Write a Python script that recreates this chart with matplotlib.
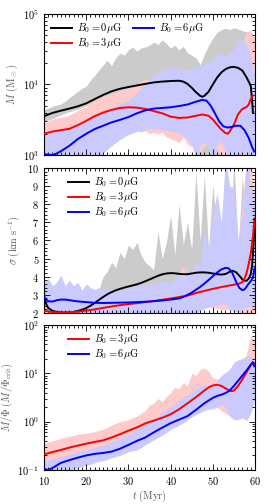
import matplotlib

matplotlib.use("Agg")
import matplotlib.pyplot as plt
import numpy as np
from matplotlib.ticker import MultipleLocator, LogLocator, NullFormatter

plt.rcParams["font.family"] = "serif"
plt.rcParams["font.serif"] = ["cmr10", "DejaVu Serif"]
plt.rcParams["mathtext.fontset"] = "cm"
plt.rcParams["axes.formatter.use_mathtext"] = True
plt.rcParams["axes.unicode_minus"] = False

# --- band time grid (Myr) ---
t_band = np.arange(10, 61)

# ---------------- top panel: mass M (Msun) ----------------
m0_t = [10, 12, 14, 16, 18, 20, 22, 24, 26, 28, 30, 32, 34, 36, 38, 40, 42, 43, 44, 45, 46, 47,
        47.5, 48, 49, 50, 51, 52, 53, 54, 55, 56, 57, 58, 58.5, 59, 59.3, 59.5]
m0 = [3550, 3950, 4250, 4550, 4900, 5400, 6200, 7100, 8000, 8700, 9200, 9700, 10200, 10700,
      11000, 11200, 11300, 11000, 10200, 9000, 7800, 6900, 6700, 6900, 7900, 10000, 12500,
      14800, 16500, 17500, 17800, 17200, 15800, 12600, 11000, 9500, 6000, 4000]
m3_t = [10, 12, 14, 16, 18, 20, 22, 24, 26, 28, 30, 32, 34, 36, 38, 40, 42, 44, 46, 47.5, 49,
        50, 51, 52, 53, 53.5, 54, 55, 56, 57, 58, 58.5, 59, 59.5]
m3 = [2000, 2150, 2250, 2350, 2650, 3050, 3550, 4000, 4350, 4650, 4750, 4700, 4500, 4200,
      3900, 3500, 3350, 3400, 3600, 3750, 3600, 3200, 2700, 2300, 2050, 2000, 2150, 2700, 3800,
      4500, 4800, 5200, 6200, 7000]
m6_t = [10, 11, 12, 13, 14, 16, 18, 20, 22, 24, 26, 28, 30, 32, 34, 36, 38, 40, 42, 44, 46,
        47.5, 48.5, 49.5, 50.5, 51.5, 52.5, 53.5, 54.5, 55.5, 56.5, 57.5, 58.5, 59.3, 59.8]
m6 = [1030, 1010, 1000, 1050, 1130, 1350, 1680, 2000, 2330, 2600, 2900, 3150, 3450, 3900,
      4300, 4550, 4650, 4750, 4950, 5200, 5700, 6050, 5900, 5000, 3900, 3000, 2550, 2450, 2500,
      2600, 2600, 2250, 1750, 1300, 1120]

m0_hi = [4400, 4600, 4900, 5100, 5300, 5800, 6500, 7200, 8000, 8800, 9500, 11500, 13500, 16000,
         19000, 22000, 18500, 24000, 28000, 26000, 31000, 34000, 30000, 33000, 34000, 36000,
         40000, 37000, 43000, 38000, 33000, 36000, 31000, 35000, 28000, 26000, 24000, 19000,
         27000, 36000, 45000, 55000, 60000, 63000, 60000, 64000, 61000, 58000, 56000, 52000, 46000]
m0_lo = [3000, 3100, 3300, 3500, 3700, 3900, 4100, 4300, 4500, 4700, 5000, 5400, 5800, 6200,
         6600, 7000, 7300, 7600, 7800, 8000, 8000, 8200, 8300, 8500, 8600, 8700, 8800, 8800,
         8500, 8000, 7000, 5500, 4000, 3000, 2200, 1500, 900, 700, 650, 900, 800, 700, 800, 900,
         1000, 1200, 1600, 2000, 1800, 1500, 2500]
m3_hi = [2900, 3000, 3200, 3350, 3450, 3500, 3700, 3950, 4300, 4600, 4800, 5400, 6000, 6500,
         6800, 7100, 7400, 7800, 8200, 8800, 9500, 9800, 10300, 11000, 12000, 11500, 13000,
         12000, 14000, 13000, 15000, 12000, 14000, 11000, 13000, 12000, 14000, 11000, 12000,
         10000, 11000, 9000, 10000, 8000, 12000, 20000, 25000, 40000, 55000, 60000, 40000]
m3_lo = [1300, 1350, 1450, 1480, 1500, 1520, 1600, 1700, 1800, 1950, 2050, 2200, 2350, 2400,
         2500, 2600, 2700, 2800, 2700, 2400, 2200, 2100, 2300, 2100, 2200, 2000, 2100, 2000,
         2100, 1800, 1700, 1600, 1500, 1800, 1400, 1300, 1200, 1100, 1300, 1500, 1400, 1200,
         1000, 900, 800, 700, 800, 700, 900, 800, 700]
m6_hi = [1900, 2000, 2100, 2200, 2300, 2400, 2500, 2600, 2750, 2900, 3100, 3300, 3500, 3800,
         4000, 4300, 4600, 5000, 5300, 5600, 6000, 6800, 7800, 9000, 10500, 12000, 13500, 15000,
         16000, 17000, 17500, 18000, 17000, 16500, 16000, 17000, 17500, 18500, 20000, 21000,
         22000, 26000, 29000, 25000, 28000, 32000, 45000, 42000, 38000, 25000, 13000]
m6_lo = [700, 700, 700, 700, 700, 700, 700, 700, 700, 700, 700, 700, 800, 900, 1050, 1200,
         1350, 1500, 1650, 1800, 1950, 2050, 2150, 2200, 2300, 2350, 2400, 2350, 2300, 2250,
         2150, 2100, 2000, 1900, 1700, 1400, 900, 1400, 1500, 1300, 900, 1400, 1600, 1100, 800,
         700, 700, 700, 700, 700, 700]

# ---------------- middle panel: sigma (km/s) ----------------
s0_t = [10, 10.5, 11, 12, 13, 14, 15, 16, 17, 18, 19, 20, 21, 22, 23, 24, 25, 26, 27, 28, 29,
        30, 31, 32, 33, 34, 35, 36, 37, 38, 39, 40, 41, 42, 43, 44, 45, 46, 47, 48, 49, 50, 51,
        52, 53, 54, 54.7, 55.5, 56.5, 57, 57.5, 58, 58.5, 59, 59.3, 59.6, 59.9]
s0 = [2.95, 2.5, 2.28, 2.12, 2.06, 2.03, 2.02, 2.03, 2.06, 2.11, 2.18, 2.27, 2.40, 2.55, 2.72,
      2.88, 3.03, 3.15, 3.25, 3.33, 3.40, 3.46, 3.52, 3.58, 3.66, 3.75, 3.85, 3.95, 4.05, 4.13,
      4.18, 4.20, 4.19, 4.16, 4.14, 4.14, 4.18, 4.22, 4.24, 4.24, 4.22, 4.18, 4.14, 4.12, 4.15,
      4.27, 4.33, 4.25, 4.0, 3.85, 3.78, 3.78, 3.9, 4.15, 4.6, 5.6, 7.2]
s3_t = [10, 12, 14, 16, 18, 20, 22, 24, 26, 28, 30, 32, 34, 36, 38, 40, 42, 44, 46, 48, 50, 52,
        54, 56, 57, 57.5, 58, 58.5, 59, 59.5, 59.9]
s3 = [2.12, 2.05, 2.03, 2.04, 2.07, 2.13, 2.2, 2.28, 2.36, 2.43, 2.49, 2.54, 2.6, 2.66, 2.73,
      2.8, 2.88, 2.96, 3.1, 3.22, 3.33, 3.43, 3.52, 3.6, 3.7, 3.9, 4.2, 4.7, 5.3, 6.2, 7.1]
s6_t = [10, 10.5, 11, 12, 13, 14, 15, 16, 17, 18, 20, 22, 24, 26, 28, 30, 32, 34, 36, 38, 40,
        42, 43, 44, 45, 46, 47, 48, 49, 50, 51, 52, 53, 53.7, 54.5, 55, 55.7, 56.3, 57, 57.5,
        58, 58.5, 59, 59.5, 59.9]
s6 = [2.9, 2.75, 2.65, 2.63, 2.7, 2.74, 2.74, 2.71, 2.67, 2.64, 2.6, 2.56, 2.55, 2.56, 2.57,
      2.58, 2.6, 2.62, 2.65, 2.69, 2.74, 2.8, 2.88, 3.0, 3.12, 3.28, 3.44, 3.62, 3.82, 4.03,
      4.23, 4.4, 4.49, 4.47, 4.27, 4.0, 3.63, 3.38, 3.26, 3.3, 3.45, 3.62, 3.76, 3.95, 4.46]

s0_hi = [3.2, 2.9, 2.5, 2.4, 2.35, 2.4, 2.45, 2.5, 2.6, 2.7, 2.8, 2.95, 3.1, 3.3, 4.0, 4.3,
         4.8, 4.5, 5.35, 5.0, 5.75, 5.5, 5.9, 5.2, 4.8, 4.6, 4.4, 6.5, 5.0, 5.9, 7.4, 5.2, 8.0,
         5.8, 7.0, 5.5, 9.8, 6.0, 9.6, 5.5, 9.1, 6.5, 5.5, 10.5, 5.2, 10.5, 5.5, 9.5, 7.0, 10.5, 8.0]
s0_lo = [2.5, 2.0, 2.0, 2.0, 2.0, 2.0, 2.0, 2.0, 2.0, 2.0, 2.0, 2.1, 2.2, 2.4, 2.6, 2.8, 2.9,
         3.0, 3.0, 3.1, 3.1, 3.15, 3.2, 3.2, 3.25, 3.3, 3.3, 3.35, 3.3, 3.2, 3.1, 3.0, 2.9, 2.8,
         2.7, 2.6, 2.5, 2.4, 2.4, 2.4, 2.45, 2.4, 2.35, 2.3, 2.3, 2.3, 2.2, 2.1, 2.0, 2.1, 2.2]
s3_hi = [2.3, 2.25, 2.2, 2.2, 2.2, 2.2, 2.25, 2.3, 2.35, 2.4, 2.45, 2.5, 2.55, 2.6, 2.7, 2.75,
         2.8, 2.85, 2.9, 2.95, 3.0, 3.2, 3.3, 3.1, 3.0, 3.1, 3.0, 3.2, 3.3, 3.4, 3.5, 3.8, 4.2,
         4.6, 3.8, 4.4, 3.6, 3.9, 3.8, 4.0, 4.0, 3.8, 3.6, 3.8, 4.5, 5.0, 6.0, 8.0, 10.5, 10.5, 8.0]
s3_lo = [1.95, 1.95, 1.95, 1.95, 1.95, 1.95, 1.95, 1.95, 1.95, 1.95, 1.95, 1.95, 1.95, 1.95,
         1.95, 1.95, 1.95, 1.95, 1.95, 1.95, 1.95, 1.95, 1.95, 1.95, 1.95, 1.95, 1.95, 1.95,
         1.95, 1.95, 1.95, 1.95, 1.95, 1.95, 1.95, 1.95, 2.1, 2.2, 2.25, 2.3, 2.3, 2.25, 2.2,
         2.2, 2.15, 2.1, 2.05, 2.0, 1.95, 1.95, 2.0]
s6_hi = [3.7, 3.9, 3.5, 3.7, 4.1, 3.5, 3.8, 3.5, 3.7, 3.25, 3.6, 3.4, 3.3, 3.4, 3.3, 3.35, 3.3,
         3.3, 3.35, 3.4, 3.4, 3.45, 3.5, 3.5, 3.55, 3.6, 3.6, 3.7, 3.7, 3.8, 3.6, 3.9, 4.3, 3.9,
         4.5, 4.1, 4.9, 4.5, 6.5, 5.5, 7.5, 8.6, 7.0, 10.5, 9.0, 8.9, 6.0, 7.5, 10.5, 9.0, 8.0]
s6_lo = [2.3, 2.2, 2.1, 2.05, 1.95, 1.95, 1.95, 1.95, 1.95, 1.95, 1.95, 1.95, 1.95, 1.95, 1.95,
         1.95, 1.95, 1.95, 1.95, 1.95, 1.95, 1.95, 1.95, 1.95, 1.95, 1.95, 1.95, 1.95, 1.95,
         1.95, 1.95, 1.95, 1.95, 1.95, 1.95, 1.95, 2.0, 2.1, 2.25, 2.35, 2.4, 2.4, 2.5, 2.5, 2.2,
         2.1, 2.05, 2.2, 2.3, 2.4, 2.5]

# ---------------- bottom panel: mass-to-flux ratio ----------------
r3_t = [10, 12, 14, 16, 18, 20, 22, 24, 26, 28, 30, 32, 34, 36, 38, 40, 42, 44, 46, 48, 49, 50,
        51, 52, 53, 54, 54.5, 55, 56, 57, 58, 59, 59.5, 59.8]
r3 = [0.21, 0.235, 0.26, 0.29, 0.32, 0.35, 0.38, 0.41, 0.47, 0.55, 0.65, 0.76, 0.92, 1.05, 1.2,
      1.42, 1.8, 2.4, 3.2, 4.4, 5.1, 5.6, 5.8, 5.5, 4.9, 4.35, 4.25, 4.4, 5.5, 7.5, 10.5, 15,
      17, 16]
r6_t = [10, 11, 12, 14, 16, 18, 20, 22, 24, 26, 28, 30, 32, 34, 36, 38, 40, 42, 44, 46, 48, 50,
        51, 52, 53, 54, 55, 56, 57, 58, 59, 59.5, 59.8]
r6 = [0.105, 0.1, 0.11, 0.14, 0.16, 0.18, 0.2, 0.215, 0.225, 0.24, 0.275, 0.33, 0.4, 0.47, 0.6,
      0.75, 0.93, 1.1, 1.3, 1.75, 2.4, 3.1, 3.4, 3.6, 3.9, 4.4, 5.5, 7.0, 9.0, 11.5, 15, 16.8, 14]

r3_hi = [0.35, 0.38, 0.40, 0.42, 0.45, 0.48, 0.5, 0.52, 0.55, 0.56, 0.58, 0.6, 0.62, 0.66, 0.7,
         0.76, 0.85, 0.92, 1.0, 1.05, 1.1, 1.2, 1.3, 1.5, 1.7, 2.2, 2.4, 3.0, 2.6, 3.3, 4.0, 5.2,
         4.8, 6.5, 5.5, 10, 9, 12, 13, 11, 8, 7.5, 8.5, 7, 5.5, 7, 10, 14, 26, 60, 45]
r3_lo = [0.13, 0.14, 0.15, 0.16, 0.17, 0.18, 0.19, 0.2, 0.21, 0.22, 0.23, 0.24, 0.25, 0.26, 0.27,
         0.29, 0.31, 0.34, 0.38, 0.42, 0.45, 0.5, 0.55, 0.6, 0.65, 0.7, 0.75, 0.8, 0.9, 1.0, 1.1,
         1.2, 1.4, 1.6, 1.8, 2.0, 2.2, 2.5, 2.8, 3.0, 2.8, 2.0, 1.7, 1.5, 1.3, 1.4, 1.6, 2.5, 3.0,
         5, 6]
r6_hi = [0.15, 0.16, 0.17, 0.18, 0.19, 0.2, 0.21, 0.22, 0.24, 0.25, 0.26, 0.28, 0.29, 0.31,
         0.33, 0.35, 0.38, 0.41, 0.44, 0.5, 0.55, 0.62, 0.7, 0.78, 0.85, 0.95, 1.1, 1.3, 1.6, 1.8,
         2.0, 2.3, 2.8, 3.2, 3.6, 4.2, 4.8, 5.5, 6.0, 5.5, 5.0, 7, 9, 10.5, 12, 17, 19, 20, 23,
         22, 18]
r6_lo = [0.07, 0.075, 0.08, 0.085, 0.09, 0.095, 0.1, 0.105, 0.11, 0.118, 0.125, 0.13, 0.14,
         0.15, 0.155, 0.165, 0.18, 0.19, 0.2, 0.22, 0.24, 0.25, 0.26, 0.29, 0.33, 0.37, 0.42,
         0.47, 0.52, 0.6, 0.68, 0.76, 0.85, 0.95, 1.1, 1.25, 1.4, 1.55, 1.7, 1.8, 1.85, 2.0, 2.3,
         2.0, 1.3, 1.1, 1.1, 1.2, 1.05, 1.5, 3.0]

LABELS = {0: r"$B_0=0\mu{\rm G}$", 3: r"$B_0=3\mu{\rm G}$", 6: r"$B_0=6\mu{\rm G}$"}
COLORS = {0: "k", 3: "r", 6: "b"}
# light, opaque band colours (drawn gray -> pink -> blue, later ones on top)
BAND_COLORS = {0: "#cbcbcb", 3: "#ffcaca", 6: "#cacaff"}
LW = 1.4
FS = 7.5
LABEL_COLOR = "0.35"


def style_axis(ax):
    ax.set_xlim(10, 60)
    ax.xaxis.set_major_locator(MultipleLocator(10))
    ax.xaxis.set_minor_locator(MultipleLocator(1))
    ax.tick_params(which="both", direction="in", top=True, right=True, labelsize=FS,
                   width=0.6)
    ax.tick_params(which="major", length=4)
    ax.tick_params(which="minor", length=2)
    for s in ax.spines.values():
        s.set_linewidth(0.8)


def bands(ax, series):
    for key, lo, hi in series:
        ax.fill_between(t_band, lo, hi, color=BAND_COLORS[key], lw=0, zorder=1)


fig = plt.figure(figsize=(2.74, 5.04), dpi=100)
x0, w = 0.1606, 0.7701
ax1 = fig.add_axes([x0, 0.6925, w, 0.2797])
ax2 = fig.add_axes([x0, 0.3790, w, 0.2877])
ax3 = fig.add_axes([x0, 0.0675, w, 0.2877])

# top
bands(ax1, [(0, m0_lo, m0_hi), (3, m3_lo, m3_hi), (6, m6_lo, m6_hi)])
ax1.plot(m0_t, m0, color="k", lw=LW, label=LABELS[0], zorder=3)
ax1.plot(m3_t, m3, color="r", lw=LW, label=LABELS[3], zorder=3)
ax1.plot(m6_t, m6, color="b", lw=LW, label=LABELS[6], zorder=3)
ax1.set_yscale("log")
ax1.set_ylim(1e3, 1e5)
style_axis(ax1)
ax1.yaxis.set_minor_locator(LogLocator(base=10, subs=np.arange(2, 10)))
ax1.yaxis.set_minor_formatter(NullFormatter())
ax1.set_xticklabels([])
ax1.set_ylabel(r"$M\ ({\rm M}_\odot)$", fontsize=FS, color=LABEL_COLOR, labelpad=2)
ax1.legend(loc="upper left", ncol=2, frameon=False, fontsize=FS, handlelength=2.0,
           handletextpad=0.5, columnspacing=1.0, labelspacing=0.1, borderaxespad=0.3)

# middle
bands(ax2, [(0, s0_lo, s0_hi), (3, s3_lo, s3_hi), (6, s6_lo, s6_hi)])
ax2.plot(s0_t, s0, color="k", lw=LW, label=LABELS[0], zorder=3)
ax2.plot(s3_t, s3, color="r", lw=LW, label=LABELS[3], zorder=3)
ax2.plot(s6_t, s6, color="b", lw=LW, label=LABELS[6], zorder=3)
ax2.set_ylim(2, 10)
style_axis(ax2)
ax2.yaxis.set_major_locator(MultipleLocator(1))
ax2.yaxis.set_minor_locator(MultipleLocator(0.2))
ax2.set_xticklabels([])
ax2.set_ylabel(r"$\sigma\ ({\rm km\ s^{-1}})$", fontsize=FS, color=LABEL_COLOR, labelpad=4)
ax2.legend(loc="upper left", bbox_to_anchor=(0.08, 1.0), frameon=False, fontsize=FS,
           handlelength=2.0, handletextpad=0.5, labelspacing=0.1, borderaxespad=0.3)

# bottom
bands(ax3, [(3, r3_lo, r3_hi), (6, r6_lo, r6_hi)])
ax3.plot(r3_t, r3, color="r", lw=LW, label=LABELS[3], zorder=3)
ax3.plot(r6_t, r6, color="b", lw=LW, label=LABELS[6], zorder=3)
ax3.set_yscale("log")
ax3.set_ylim(0.1, 100)
style_axis(ax3)
ax3.yaxis.set_minor_locator(LogLocator(base=10, subs=np.arange(2, 10)))
ax3.yaxis.set_minor_formatter(NullFormatter())
ax3.set_ylabel(r"$M/\Phi\ (M/\Phi_{\rm crit})$", fontsize=FS, color=LABEL_COLOR, labelpad=2)
ax3.set_xlabel(r"$t\ ({\rm Myr})$", fontsize=FS, color=LABEL_COLOR, labelpad=1)
ax3.legend(loc="upper left", bbox_to_anchor=(0.08, 1.0), frameon=False, fontsize=FS,
           handlelength=2.0, handletextpad=0.5, labelspacing=0.1, borderaxespad=0.3)

fig.savefig("out.png", dpi=100)
